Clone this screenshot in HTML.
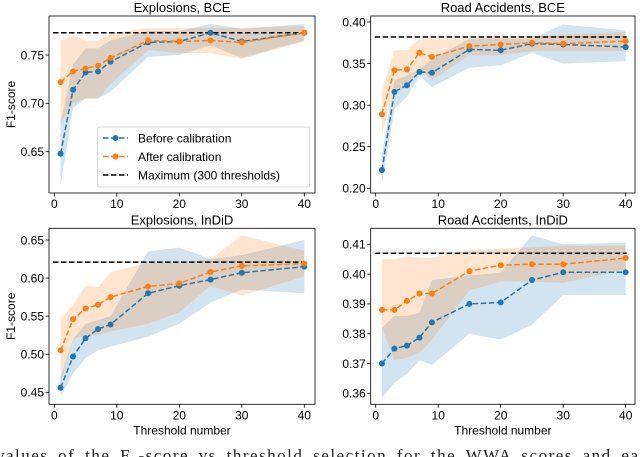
<!DOCTYPE html>
<html><head><meta charset="utf-8">
<style>
body{margin:0;background:#fff;}
svg{display:block;font-family:"Liberation Sans","DejaVu Sans",sans-serif;}
</style></head>
<body>
<svg id="chart" width="640" height="457" viewBox="0 0 640 457" xmlns="http://www.w3.org/2000/svg">
<text x="-4" y="461" font-family="Liberation Serif, serif" font-size="17" letter-spacing="1.5" word-spacing="4" fill="#222">values of the F₁-score vs threshold selection for the WWA scores and each of the fi</text>
</svg>
<script>
const thresholds = [1,3,5,7,9,15,20,25,30,40];
const xTicks = [0,10,20,30,40];
// Explosions, BCE
const expBceBefore = [0.648,0.714,0.732,0.733,0.743,0.763,0.764,0.773,0.764,0.773];
const expBceAfter  = [0.722,0.733,0.736,0.739,0.747,0.765,0.764,0.765,0.763,0.773];
const expBceBeforeLo = [0.615,0.695,0.705,0.705,0.712,0.748,0.750,0.760,0.747,0.765];
const expBceBeforeHi = [0.680,0.740,0.757,0.757,0.765,0.775,0.775,0.782,0.777,0.782];
const expBceAfterLo  = [0.680,0.700,0.705,0.705,0.720,0.755,0.752,0.752,0.746,0.764];
const expBceAfterHi  = [0.765,0.770,0.765,0.765,0.772,0.778,0.778,0.778,0.778,0.780];
const expBceMax = 0.773;
const expBceTicks = [0.65,0.70,0.75];
// Road Accidents, BCE
const roadBceBefore = [0.222,0.316,0.324,0.340,0.339,0.367,0.366,0.374,0.373,0.370];
const roadBceAfter  = [0.289,0.342,0.343,0.363,0.358,0.371,0.373,0.375,0.374,0.377];
const roadBceBeforeLo = [0.205,0.295,0.310,0.335,0.322,0.345,0.348,0.363,0.350,0.353];
const roadBceBeforeHi = [0.240,0.330,0.335,0.343,0.355,0.380,0.380,0.380,0.397,0.390];
const roadBceAfterLo  = [0.265,0.320,0.320,0.345,0.330,0.360,0.360,0.365,0.365,0.365];
const roadBceAfterHi  = [0.315,0.366,0.366,0.380,0.380,0.380,0.382,0.383,0.385,0.388];
const roadBceMax = 0.382;
const roadBceTicks = [0.20,0.25,0.30,0.35,0.40];
// Explosions, InDiD
const expIndBefore = [0.456,0.497,0.521,0.533,0.539,0.580,0.590,0.598,0.607,0.615];
const expIndAfter  = [0.505,0.546,0.560,0.565,0.575,0.589,0.593,0.608,0.616,0.619];
const expIndBeforeLo = [0.445,0.475,0.495,0.505,0.510,0.523,0.540,0.568,0.585,0.580];
const expIndBeforeHi = [0.470,0.520,0.540,0.545,0.550,0.635,0.640,0.625,0.630,0.650];
const expIndAfterLo  = [0.460,0.520,0.525,0.525,0.530,0.540,0.555,0.590,0.577,0.602];
const expIndAfterHi  = [0.545,0.565,0.590,0.588,0.608,0.620,0.620,0.625,0.656,0.636];
const expIndMax = 0.621;
const expIndTicks = [0.45,0.50,0.55,0.60,0.65];
// Road Accidents, InDiD
const roadIndBefore = [0.370,0.375,0.376,0.3787,0.3838,0.390,0.3905,0.398,0.4006,0.4006];
const roadIndAfter  = [0.388,0.388,0.391,0.3935,0.3935,0.401,0.403,0.4033,0.4033,0.4054];
const roadIndBeforeLo = [0.3585,0.3635,0.3665,0.371,0.3695,0.380,0.378,0.383,0.393,0.393];
const roadIndBeforeHi = [0.382,0.386,0.386,0.387,0.398,0.3995,0.4005,0.413,0.410,0.4105];
const roadIndAfterLo  = [0.382,0.371,0.372,0.3735,0.378,0.3945,0.3975,0.3975,0.397,0.4015];
const roadIndAfterHi  = [0.405,0.405,0.406,0.4055,0.4055,0.408,0.4085,0.409,0.4095,0.4095];
const roadIndMax = 0.407;
const roadIndTicks = [0.36,0.37,0.38,0.39,0.40,0.41];

const NS="http://www.w3.org/2000/svg";
const svg=document.getElementById('chart');
const BLUE="#1f77b4", ORANGE="#ff7f0e";
function mk(tag,attrs,parent){const e=document.createElementNS(NS,tag);for(const k in attrs)e.setAttribute(k,attrs[k]);(parent||svg).appendChild(e);return e;}

function panel(cfg){
  const g=mk('g',{});
  
  
  const xs=v=>cfg.x0+(v/40)*(cfg.x40-cfg.x0);
  const ys=v=>cfg.yA+(cfg.vA-v)*(cfg.yB-cfg.yA)/(cfg.vA-cfg.vB);
  function band(lo,hi,color,nm){
    let d='M'+thresholds.map((t,i)=>xs(t)+','+ys(hi[i])).join('L');
    d+='L'+thresholds.slice().reverse().map((t,i)=>xs(t)+','+ys(lo[lo.length-1-i])).join('L')+'Z';
    const p=mk('path',{d:d,fill:color,'fill-opacity':0.2,stroke:'none'},g);
    
    
  }
  band(cfg.bLo,cfg.bHi,BLUE,'before-band');
  band(cfg.aLo,cfg.aHi,ORANGE,'after-band');
  const mx=mk('line',{x1:cfg.left+4,x2:xs(40)+1,y1:ys(cfg.max),y2:ys(cfg.max),stroke:'#000','stroke-width':1.5,'stroke-dasharray':'5.5,2.5'},g);
  
  
  function series(vals,color,nm){
    const l=mk('polyline',{points:thresholds.map((t,i)=>xs(t)+','+ys(vals[i])).join(' '),fill:'none',stroke:color,'stroke-width':1.5,'stroke-dasharray':'5.5,2.5'},g);
    
    
    thresholds.forEach((t,i)=>{
      const c=mk('circle',{cx:xs(t),cy:ys(vals[i]),r:3,fill:color},g);
      
      
    });
  }
  series(cfg.before,BLUE,'before-calibration');
  series(cfg.after,ORANGE,'after-calibration');
  const fr=mk('rect',{x:cfg.left,y:cfg.top,width:cfg.right-cfg.left,height:cfg.bottom-cfg.top,fill:'none',stroke:'#000','stroke-width':0.8},g);
  
  
  xTicks.forEach(t=>{
    mk('line',{x1:xs(t),x2:xs(t),y1:cfg.bottom,y2:cfg.bottom+3.5,stroke:'#000','stroke-width':0.8},g);
    const tx=mk('text',{x:xs(t),y:cfg.bottom+15,'font-size':12,'text-anchor':'middle',fill:'#000'},g);
    tx.textContent=t;
    
    
  });
  cfg.ticks.forEach(t=>{
    mk('line',{x1:cfg.left-3.5,x2:cfg.left,y1:ys(t),y2:ys(t),stroke:'#000','stroke-width':0.8},g);
    const tx=mk('text',{x:cfg.left-5,y:ys(t)+4.3,'font-size':12,'text-anchor':'end',fill:'#000'},g);
    tx.textContent=t.toFixed(cfg.dec);
    
    
  });
  const ti=mk('text',{x:(cfg.left+cfg.right)/2,y:cfg.top-4,'font-size':13,'text-anchor':'middle',fill:'#000'},g);
  ti.textContent=cfg.title;
  
  
  if(cfg.ylabel){
    const yl=mk('text',{x:0,y:0,'font-size':12,'text-anchor':'middle',fill:'#000',transform:'translate(15,'+((cfg.top+cfg.bottom)/2)+') rotate(-90)'},g);
    yl.textContent='F1-score';
    
    
  }
  if(cfg.xlabel){
    const xl=mk('text',{x:(cfg.left+cfg.right)/2,y:cfg.bottom+30,'font-size':12,'text-anchor':'middle',fill:'#000'},g);
    xl.textContent='Threshold number';
    
    
  }
  return g;
}

panel({name:'panel-explosions-bce',title:'Explosions, BCE',left:49,right:315,top:16,bottom:193,x0:54.3,x40:304.3,vA:0.75,yA:55,vB:0.65,yB:151.7,ticks:expBceTicks,dec:2,
  before:expBceBefore,after:expBceAfter,bLo:expBceBeforeLo,bHi:expBceBeforeHi,aLo:expBceAfterLo,aHi:expBceAfterHi,max:expBceMax,ylabel:true});
panel({name:'panel-road-bce',title:'Road Accidents, BCE',left:370.7,right:635,top:16,bottom:193,x0:375.7,x40:625.7,vA:0.40,yA:22,vB:0.20,yB:188.3,ticks:roadBceTicks,dec:2,
  before:roadBceBefore,after:roadBceAfter,bLo:roadBceBeforeLo,bHi:roadBceBeforeHi,aLo:roadBceAfterLo,aHi:roadBceAfterHi,max:roadBceMax});
panel({name:'panel-explosions-indid',title:'Explosions, InDiD',left:49,right:315,top:228.3,bottom:404.3,x0:54.3,x40:304.3,vA:0.65,yA:240,vB:0.45,yB:392.3,ticks:expIndTicks,dec:2,
  before:expIndBefore,after:expIndAfter,bLo:expIndBeforeLo,bHi:expIndBeforeHi,aLo:expIndAfterLo,aHi:expIndAfterHi,max:expIndMax,ylabel:true,xlabel:true});
panel({name:'panel-road-indid',title:'Road Accidents, InDiD',left:370.7,right:635,top:228.3,bottom:404.3,x0:375.7,x40:625.7,vA:0.41,yA:244.3,vB:0.36,yB:393.3,ticks:roadIndTicks,dec:2,
  before:roadIndBefore,after:roadIndAfter,bLo:roadIndBeforeLo,bHi:roadIndBeforeHi,aLo:roadIndAfterLo,aHi:roadIndAfterHi,max:roadIndMax,xlabel:true});

// legend
const lg=mk('g',{});


mk('rect',{x:97.7,y:127,width:212,height:60,rx:2,fill:'#fff','fill-opacity':0.8,stroke:'#ccc','stroke-width':0.8},lg);
const entries=[['Before calibration',BLUE,true],['After calibration',ORANGE,true],['Maximum (300 thresholds)','#000',false]];
entries.forEach((e,i)=>{
  const y=138+i*18.5;
  const eg=mk('g',{},lg);
  
  
  mk('line',{x1:103,x2:128,y1:y,y2:y,stroke:e[1],'stroke-width':1.5,'stroke-dasharray':'5.5,2.5'},eg);
  if(e[2]) mk('circle',{cx:115.5,cy:y,r:3,fill:e[1]},eg);
  const t=mk('text',{x:138,y:y+4.3,'font-size':12,fill:'#000'},eg);
  t.textContent=e[0];
});
</script>
</body></html>
